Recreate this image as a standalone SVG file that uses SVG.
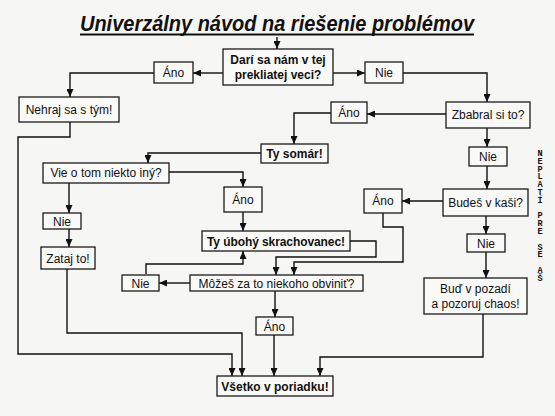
<svg xmlns="http://www.w3.org/2000/svg" width="555" height="416" viewBox="0 0 555 416">
<defs>
<marker id="ah" markerUnits="userSpaceOnUse" markerWidth="9" markerHeight="7" refX="8" refY="3.5" orient="auto"><path d="M0,0 L8,3.5 L0,7 z" fill="#111"/></marker>
<style>
.b{fill:#f9f9f7;stroke:#1a1a1a;stroke-width:1.3}
.t{font-family:"Liberation Sans",Arial,sans-serif;font-size:12px;fill:#111;text-anchor:middle}
.tb{font-family:"Liberation Sans",Arial,sans-serif;font-size:12px;font-weight:bold;fill:#111;text-anchor:middle}
.c{fill:none;stroke:#111;stroke-width:1.4;marker-end:url(#ah)}
.v{font-family:"Liberation Mono",monospace;font-size:8.5px;font-weight:bold;fill:#111;writing-mode:vertical-rl;text-orientation:upright;letter-spacing:-2.2px}
</style>
</defs>
<rect width="555" height="416" fill="#f6f6f4"/>
<g id="title">
<text x="80" y="31" font-family="Liberation Sans,Arial,sans-serif" font-size="22" font-weight="bold" font-style="italic" fill="#111" textLength="394" lengthAdjust="spacingAndGlyphs">Univerzálny návod na riešenie problémov</text>
<line x1="80" y1="34.5" x2="474" y2="34.5" stroke="#111" stroke-width="2"/>
</g>
<g id="connectors">
<path class="c" d="M277 37 V49"/>
<path class="c" d="M223 73 H193"/>
<path class="c" d="M333 73 H365"/>
<path class="c" d="M154 73 H70 V97"/>
<path class="c" d="M403 73 H487 V102"/>
<path class="c" d="M446 114 H367"/>
<path class="c" d="M331 113 H294 V144"/>
<path class="c" d="M487 128 V147"/>
<path class="c" d="M487 166 V189"/>
<path class="c" d="M443 201 H402"/>
<path class="c" d="M486 216 V234"/>
<path class="c" d="M486 252 V278"/>
<path class="c" d="M483 314 V357 H320 V376"/>
<path class="c" d="M261 153 H148 V163"/>
<path class="c" d="M169 172 H243 V187"/>
<path class="c" d="M69 183 V213"/>
<path class="c" d="M69 229 V247"/>
<path class="c" d="M67 269 V333 H242 V376"/>
<path class="c" d="M70 122 V137 H18 V354 H232 V376"/>
<path class="c" d="M243 212 V231"/>
<path class="c" d="M350 241 H376 V257 H276 V275"/>
<path class="c" d="M383 213 V227 H403 V262 H294 V275"/>
<path class="c" d="M190 283 H159"/>
<path class="c" d="M146 274 V264 H243 V251"/>
<path class="c" d="M275 291 V317"/>
<path class="c" d="M274 335 V376"/>
</g>
<g id="dari"><rect class="b" x="223" y="49" width="110" height="36"/><text class="tb" x="278" y="64">Darí sa nám v tej</text><text class="tb" x="278" y="79">prekliatej veci?</text></g>
<g id="ano1"><rect class="b" x="154" y="62" width="39" height="21"/><text class="t" x="173.5" y="77">Áno</text></g>
<g id="nie1"><rect class="b" x="365" y="62" width="38" height="21"/><text class="t" x="384" y="77">Nie</text></g>
<g id="nehraj"><rect class="b" x="19" y="97" width="100" height="25"/><text class="t" x="69" y="114">Nehraj sa s tým!</text></g>
<g id="zbabral"><rect class="b" x="446" y="102" width="84" height="26"/><text class="t" x="488" y="119">Zbabral si to?</text></g>
<g id="ano2"><rect class="b" x="331" y="102" width="36" height="21"/><text class="t" x="349" y="117">Áno</text></g>
<g id="somar"><rect class="b" x="261" y="144" width="67" height="19"/><text class="tb" x="294.5" y="158">Ty somár!</text></g>
<g id="nie2"><rect class="b" x="469" y="147" width="38" height="19"/><text class="t" x="488" y="161">Nie</text></g>
<g id="vie"><rect class="b" x="43" y="163" width="126" height="20"/><text class="t" x="106" y="177">Vie o tom niekto iný?</text></g>
<g id="bude"><rect class="b" x="443" y="189" width="85" height="27"/><text class="t" x="485.5" y="207">Budeš v kaši?</text></g>
<g id="ano3"><rect class="b" x="364" y="189" width="38" height="24"/><text class="t" x="383" y="205">Áno</text></g>
<g id="ano5"><rect class="b" x="224" y="187" width="38" height="25"/><text class="t" x="243" y="204">Áno</text></g>
<g id="nie5"><rect class="b" x="43" y="213" width="38" height="16"/><text class="t" x="62" y="225.5">Nie</text></g>
<g id="uboh"><rect class="b" x="202" y="231" width="148" height="20"/><text class="tb" x="276" y="245.5" textLength="138">Ty úbohý skrachovanec!</text></g>
<g id="nie3"><rect class="b" x="467" y="234" width="38" height="18"/><text class="t" x="486" y="247.5">Nie</text></g>
<g id="zataj"><rect class="b" x="41" y="247" width="54" height="22"/><text class="t" x="68" y="262.5">Zataj to!</text></g>
<g id="nie4"><rect class="b" x="122" y="275" width="37" height="16"/><text class="t" x="140.5" y="287.5">Nie</text></g>
<g id="mozes"><rect class="b" x="190" y="275" width="173" height="16"/><text class="t" x="276.5" y="287.5">Môžeš za to niekoho obviniť?</text></g>
<g id="bud"><rect class="b" x="424" y="278" width="103" height="36"/><text class="t" x="475.5" y="293">Buď v pozadí</text><text class="t" x="475.5" y="308">a pozoruj chaos!</text></g>
<g id="ano4"><rect class="b" x="256" y="317" width="37" height="18"/><text class="t" x="274.5" y="330.5">Áno</text></g>
<g id="vsetko"><rect class="b" x="217" y="376" width="116" height="20"/><text class="tb" x="275" y="390.5">Všetko v poriadku!</text></g>
<g id="side">
<text class="v" x="540" y="149">NEPLATÍ PRE SE AŠ</text>
</g>
</svg>
